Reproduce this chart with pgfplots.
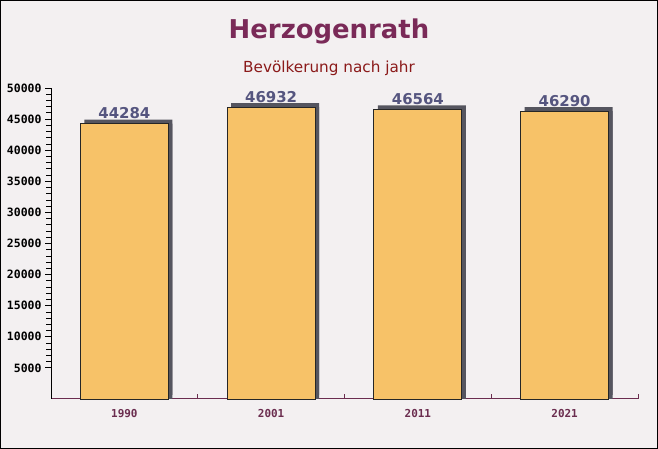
\documentclass[border=0pt]{standalone}
\usepackage{pgfplots}
\pgfplotsset{compat=1.18}
\usepackage{fontspec}
\setmainfont{DejaVu Sans}
\newfontfamily\monob{DejaVu Sans Mono}
\definecolor{bgc}{HTML}{F3F0F1}
\definecolor{barc}{HTML}{F7C268}
\definecolor{titlec}{HTML}{7A2A58}
\definecolor{subc}{HTML}{8B1A1A}
\definecolor{valc}{HTML}{55557F}
\definecolor{xlabc}{HTML}{6B2D4F}
\definecolor{shadc}{HTML}{55555F}

\pgfplotstableread{
x y
0 44284
1 46932
2 46564
3 46290
}\pop

\begin{document}
\begin{tikzpicture}[x=1bp,y=1bp]
\fill[bgc] (0,0) rectangle (658,449);
\draw[black,line width=1bp] (0.5,0.5) rectangle (657.5,448.5);
\node[font=\fontsize{26}{30}\selectfont\bfseries,text=titlec] at (329,418) {Herzogenrath};
\node[font=\fontsize{15.3}{18}\selectfont,text=subc] at (329,381) {Bevölkerung nach jahr};
\begin{axis}[
  at={(51bp,50bp)}, anchor=south west,
  scale only axis, width=587bp, height=311bp,
  xmin=-0.5, xmax=3.5, ymin=0, ymax=50000,
  axis x line*=bottom, axis y line*=left,
  x axis line style={xlabc, line width=1bp},
  y axis line style={black, line width=1bp},
  xtick={0,1,2,3}, xticklabels={1990,2001,2011,2021},
  minor xtick={0.5,1.5,2.5,3.5},
  major x tick style={draw=none},
  minor x tick style={draw=xlabc, line width=0.8bp, yshift=5bp},
  xticklabel style={font=\monob\bfseries\fontsize{11}{13}\selectfont, text=xlabc, yshift=-1bp},
  ytick={5000,10000,...,50000},
  minor y tick num=4,
  ytick style={black, line width=0.8bp},
  ytick align=outside,
  major tick length=6bp, minor tick length=5bp,
  yticklabel style={font=\monob\bfseries\fontsize{11.5}{13}\selectfont, text=black},
  /pgf/number format/assume math mode=true,
  scaled y ticks=false,
  y tick label style={/pgf/number format/1000 sep={}},
  ybar, bar width=0.6, bar shift=0pt,
  clip=false,
]
\addplot[fill=shadc, draw=none, bar shift=0pt, xshift=4bp, yshift=4bp] table[x=x,y=y] {\pop};
\addplot[fill=shadc, draw=none, bar shift=0pt, xshift=4bp] table[x=x,y=y] {\pop};
\addplot[fill=barc, draw=black!85, line width=0.9bp, bar shift=0pt,
  nodes near coords,
  nodes near coords style={font=\bfseries\fontsize{15}{18}\selectfont, text=valc, yshift=1bp},
  point meta=explicit symbolic] table[x=x,y=y,meta=y] {\pop};
\end{axis}
\end{tikzpicture}
\end{document}
